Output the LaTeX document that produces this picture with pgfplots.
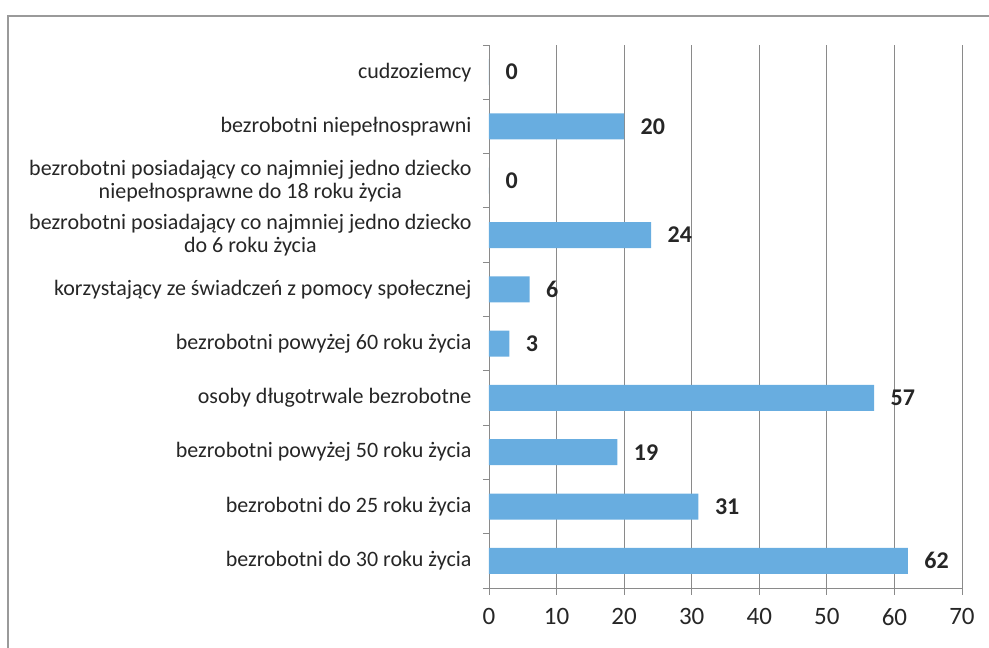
\documentclass[border=0pt]{standalone}
\usepackage{fontspec}
\setmainfont{Carlito}
\usepackage{pgfplots}
\pgfplotsset{compat=1.18}
\definecolor{barblue}{HTML}{68ADE0}
\definecolor{gridgray}{HTML}{8A8A8A}
\definecolor{framegray}{HTML}{9A9A9A}
\definecolor{txt}{HTML}{262626}
\begin{document}
\begin{tikzpicture}
\useasboundingbox (0pt,0pt) rectangle (989pt,648pt);
\draw[framegray, line width=1.3pt] (8pt,-10pt) -- (8pt,632pt) -- (995pt,632pt);
\begin{axis}[
  at={(489pt,60pt)}, anchor=south west,
  scale only axis, width=473pt, height=543pt,
  xmin=0, xmax=70, ymin=-0.5, ymax=9.5,
  xbar, bar width=26pt,
  axis x line*=bottom, axis y line*=left,
  axis line style={gridgray, line width=0.8pt},
  xtick={0,10,...,70},
  xmajorgrids, major grid style={gridgray, line width=0.8pt},
  ytick={0,...,9},
  major tick length=0pt,
  minor ytick={-0.5,0.5,...,9.5},
  minor tick length=6pt,
  extra x ticks={0,10,...,70},
  extra x tick labels={},
  extra x tick style={major tick length=7pt, xmajorgrids=false},
  tick align=outside,
  tick style={gridgray, line width=0.8pt},
  yticklabels={
    bezrobotni do 30 roku życia,
    bezrobotni do 25 roku życia,
    bezrobotni powyżej 50 roku życia,
    osoby długotrwale bezrobotne,
    bezrobotni powyżej 60 roku życia,
    korzystający ze świadczeń z pomocy społecznej,
    {bezrobotni posiadający co najmniej jedno dziecko\\do 6 roku życia},
    {bezrobotni posiadający co najmniej jedno dziecko\\niepełnosprawne do 18 roku życia},
    bezrobotni niepełnosprawni,
    cudzoziemcy},
  yticklabel style={align=center, font=\fontsize{22}{23}\selectfont, text=txt, xshift=-14pt},
  xticklabel style={font=\fontsize{25}{28}\selectfont, text=txt, yshift=-17pt},
  /pgf/number format/assume math mode=true,
  nodes near coords,
  every node near coord/.append style={font=\bfseries\fontsize{24}{26}\selectfont, text=txt, anchor=west, xshift=13pt},
]
\addplot[fill=barblue, draw=none] coordinates {
  (62,0) (31,1) (19,2) (57,3) (3,4) (6,5) (24,6) (0,7) (20,8) (0,9)
};
\end{axis}
\end{tikzpicture}
\end{document}
